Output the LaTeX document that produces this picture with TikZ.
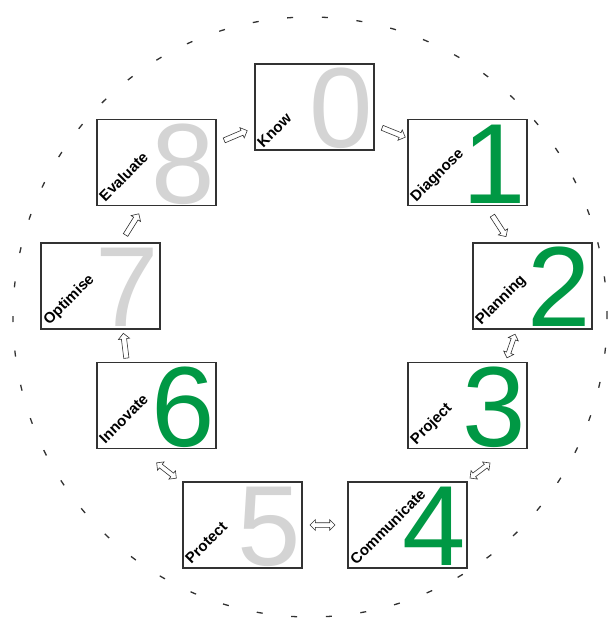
\documentclass[tikz,border=0pt]{standalone}
\usepackage{fontspec}
\setmainfont{Liberation Sans}
\usetikzlibrary{shapes.arrows}
\definecolor{dgreen}{RGB}{0,152,68}
\definecolor{lgray}{RGB}{212,212,212}
\definecolor{edge}{RGB}{50,50,50}
\tikzset{
  stepbox/.style={draw=edge,line width=1.3pt,fill=white,minimum width=119pt,minimum height=86pt,inner sep=0pt},
  lab/.style={rotate=45,anchor=base west,inner sep=0pt,font=\fontsize{15}{15}\selectfont\bfseries},
  dig/.style={anchor=base east,inner sep=0pt,font=\fontsize{114}{114}\selectfont},
  sarr/.style={single arrow,draw=edge,fill=white,line width=0.6pt,minimum height=25pt,minimum width=11pt,single arrow head extend=3pt,inner sep=2.3pt},
  darr/.style={double arrow,draw=edge,fill=white,line width=0.6pt,minimum height=25pt,minimum width=10pt,double arrow head extend=3pt,inner sep=2pt},
}
\begin{document}
\begin{tikzpicture}[x=1pt,y=-1pt]
\useasboundingbox (0,0) rectangle (611,619);
\draw[line width=1.3pt,dash pattern=on 6pt off 28.7pt,edge] (310,317) ellipse [x radius=297pt,y radius=300pt];

\node[stepbox] (n0) at (314.5,107) {};
\node[stepbox] (n1) at (467.5,162.5) {};
\node[stepbox] (n2) at (532.5,286) {};
\node[stepbox] (n3) at (467.5,405.5) {};
\node[stepbox] (n4) at (407.5,525) {};
\node[stepbox] (n5) at (242.5,525) {};
\node[stepbox] (n6) at (156.5,405.5) {};
\node[stepbox] (n7) at (100.5,286) {};
\node[stepbox] (n8) at (156.5,162.5) {};

\node[dig,text=lgray]  (d0) at ([xshift=-2pt,yshift=3pt]n0.south east) {0};
\node[dig,text=dgreen] (d1) at ([xshift=-2pt,yshift=3pt]n1.south east) {1};
\node[dig,text=dgreen] (d2) at ([xshift=-2pt,yshift=3pt]n2.south east) {2};
\node[dig,text=dgreen] (d3) at ([xshift=-2pt,yshift=3pt]n3.south east) {3};
\node[dig,text=dgreen] (d4) at ([xshift=-2pt,yshift=3pt]n4.south east) {4};
\node[dig,text=lgray]  (d5) at ([xshift=-2pt,yshift=3pt]n5.south east) {5};
\node[dig,text=dgreen] (d6) at ([xshift=-2pt,yshift=3pt]n6.south east) {6};
\node[dig,text=lgray]  (d7) at ([xshift=-2pt,yshift=3pt]n7.south east) {7};
\node[dig,text=lgray]  (d8) at ([xshift=-2pt,yshift=3pt]n8.south east) {8};

\node[lab] (l0) at ([xshift=9pt,yshift=2pt]n0.south west) {Know};
\node[lab] (l1) at ([xshift=9pt,yshift=4pt]n1.south west) {Diagnose};
\node[lab] (l2) at ([xshift=9pt,yshift=4pt]n2.south west) {Planning};
\node[lab] (l3) at ([xshift=9pt,yshift=4pt]n3.south west) {Project};
\node[lab] (l4) at ([xshift=9pt,yshift=3pt]n4.south west) {Communicate};
\node[lab] (l5) at ([xshift=9pt,yshift=4pt]n5.south west) {Protect};
\node[lab] (l6) at ([xshift=9pt,yshift=5pt]n6.south west) {Innovate};
\node[lab] (l7) at ([xshift=9pt,yshift=4pt]n7.south west) {Optimise};
\node[lab] (l8) at ([xshift=9pt,yshift=4pt]n8.south west) {Evaluate};

\node[sarr,rotate=23]  (a80) at (234.5,136) {};
\node[sarr,rotate=-22] (a01) at (392.5,132) {};
\node[sarr,rotate=-57] (a12) at (498.5,225) {};
\node[darr,rotate=71]  (a23) at (511,346) {};
\node[darr,rotate=37]  (a34) at (480,470.5) {};
\node[darr,rotate=0]   (a45) at (322.5,525) {};
\node[darr,rotate=-38] (a56) at (166.5,470.5) {};
\node[sarr,rotate=97]  (a67) at (125,347) {};
\node[sarr,rotate=58]  (a78) at (131.5,225.5) {};
\end{tikzpicture}
\end{document}
